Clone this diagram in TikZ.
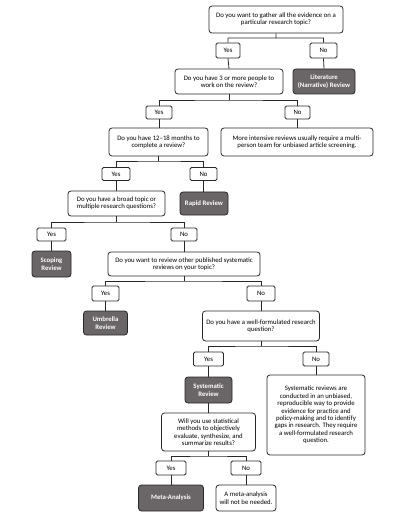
\documentclass[tikz,border=0pt]{standalone}
\usepackage{fontspec}
\setmainfont{Carlito}
\definecolor{darkbox}{RGB}{106,101,103}
\definecolor{edge}{RGB}{40,40,40}
\tikzset{
  box/.style={draw=edge, line width=0.8bp, rounded corners=3bp, fill=white, align=center,
    inner sep=0pt, font=\fontsize{6.8}{7.4}\selectfont},
  dbox/.style={box, fill=darkbox, text=white, font=\fontsize{6.8}{7.4}\selectfont\bfseries},
  ans/.style={box, rounded corners=1.5bp},
  link/.style={draw=edge, line width=0.8bp},
  sz/.style 2 args={minimum width=#1bp, minimum height=#2bp},
}
\begin{document}
\begin{tikzpicture}[x=1bp,y=-1bp]
\useasboundingbox[fill=white] (0,0) rectangle (410,520);
% level 1
\node[box,sz={134}{27}] (q1) at (276,19.5) {Do you want to gather all the evidence on a\\particular research topic?};
\node[ans,sz={24}{15}] (y1) at (228,50.5) {Yes};
\node[ans,sz={27}{15}] (n1) at (323.5,50.5) {No};
\node[box,sz={108}{25}] (q2) at (229,81.5) {Do you have 3 or more people to\\work on the review?};
\node[dbox,sz={62}{25}] (lit) at (324,81.5) {Literature\\(Narrative) Review};
% level 2
\node[ans,sz={26}{13}] (y2) at (159,112.5) {Yes};
\node[ans,sz={25}{13}] (n2) at (297.5,112.5) {No};
\node[box,sz={99}{28}] (q3) at (158.5,142) {Do you have 12–18 months to\\complete a review?};
\node[box,sz={152}{28}] (note1) at (297,142) {More intensive reviews usually require a multi-\\person team for unbiased article screening.};
% level 3
\node[ans,sz={28}{13}] (y3) at (116,174) {Yes};
\node[ans,sz={27}{13}] (n3) at (203.5,174) {No};
\node[box,sz={97}{25}] (q4) at (116.5,203.5) {Do you have a broad topic or\\multiple research questions?};
\node[dbox,sz={48}{23}] (rapid) at (204,203.5) {Rapid Review};
% level 4
\node[ans,sz={29}{13}] (y4) at (51.5,234.5) {Yes};
\node[ans,sz={26}{13}] (n4) at (184,234.5) {No};
\node[dbox,sz={39}{26}] (scop) at (51.5,264) {Scoping\\Review};
\node[box,sz={152}{24}] (q5) at (184,264) {Do you want to review other published systematic\\reviews on your topic?};
% level 5
\node[ans,sz={27}{15}] (y5) at (105.5,293.5) {Yes};
\node[ans,sz={28}{15}] (n5) at (261,293.5) {No};
\node[dbox,sz={44}{24}] (umb) at (105.5,323) {Umbrella\\Review};
\node[box,sz={117}{30}] (q6) at (261,326) {Do you have a well-formulated research\\question?};
% level 6
\node[ans,sz={30}{14}] (y6) at (208.5,359) {Yes};
\node[ans,sz={26}{14}] (n6) at (316,359) {No};
\node[dbox,sz={47}{26}] (sys) at (208.5,390) {Systematic\\Review};
\node[box,sz={98}{80}] (note2) at (316,415) {Systematic reviews are\\conducted in an unbiased,\\reproducible way to provide\\evidence for practice and\\policy-making and to identify\\gaps in research. They require\\a well-formulated research\\question.};
\node[box,sz={94}{38}] (q7) at (208.5,432) {Will you use statistical\\methods to objectively\\evaluate, synthesize, and\\summarize results?};
% level 7
\node[ans,sz={30}{14}] (y7) at (171,468) {Yes};
\node[ans,sz={30}{14}] (n7) at (246,468) {No};
\node[dbox,sz={65}{26}] (meta) at (171,498) {Meta-Analysis};
\node[box,sz={60}{26}] (note3) at (246,498) {A meta-analysis\\will not be needed.};
% junctions
\coordinate (j1) at (q1.south |- 0,38);
\coordinate (j2) at (q2.south |- 0,100);
\coordinate (j3) at (q3.south |- 0,161);
\coordinate (j4) at (q4.south |- 0,222);
\coordinate (j5) at (q5.south |- 0,281);
\coordinate (j6) at (q6.south |- 0,346);
\coordinate (j7) at (q7.south |- 0,456);
% connectors
\path[link] (q1.south) -- (j1) (y1.north) |- (j1) -| (n1.north) (y1.south) -- (q2.north) (n1.south) -- (lit.north);
\path[link] (q2.south) -- (j2) (y2.north) |- (j2) -| (n2.north) (y2.south) -- (y2.south |- q3.north) (n2.south) -- (n2.south |- note1.north);
\path[link] (q3.south) -- (j3) (y3.north) |- (j3) -| (n3.north) (y3.south) -- (y3.south |- q4.north) (n3.south) -- (n3.south |- rapid.north);
\path[link] (q4.south) -- (j4) (y4.north) |- (j4) -| (n4.north) (y4.south) -- (scop.north) (n4.south) -- (q5.north);
\path[link] (q5.south) -- (j5) (y5.north) |- (j5) -| (n5.north) (y5.south) -- (umb.north) (n5.south) -- (q6.north);
\path[link] (q6.south) -- (j6) (y6.north) |- (j6) -| (n6.north) (y6.south) -- (sys.north) (n6.south) -- (note2.north) (sys.south) -- (q7.north);
\path[link] (q7.south) -- (j7) (y7.north) |- (j7) -| (n7.north) (y7.south) -- (meta.north) (n7.south) -- (note3.north);
\end{tikzpicture}
\end{document}
